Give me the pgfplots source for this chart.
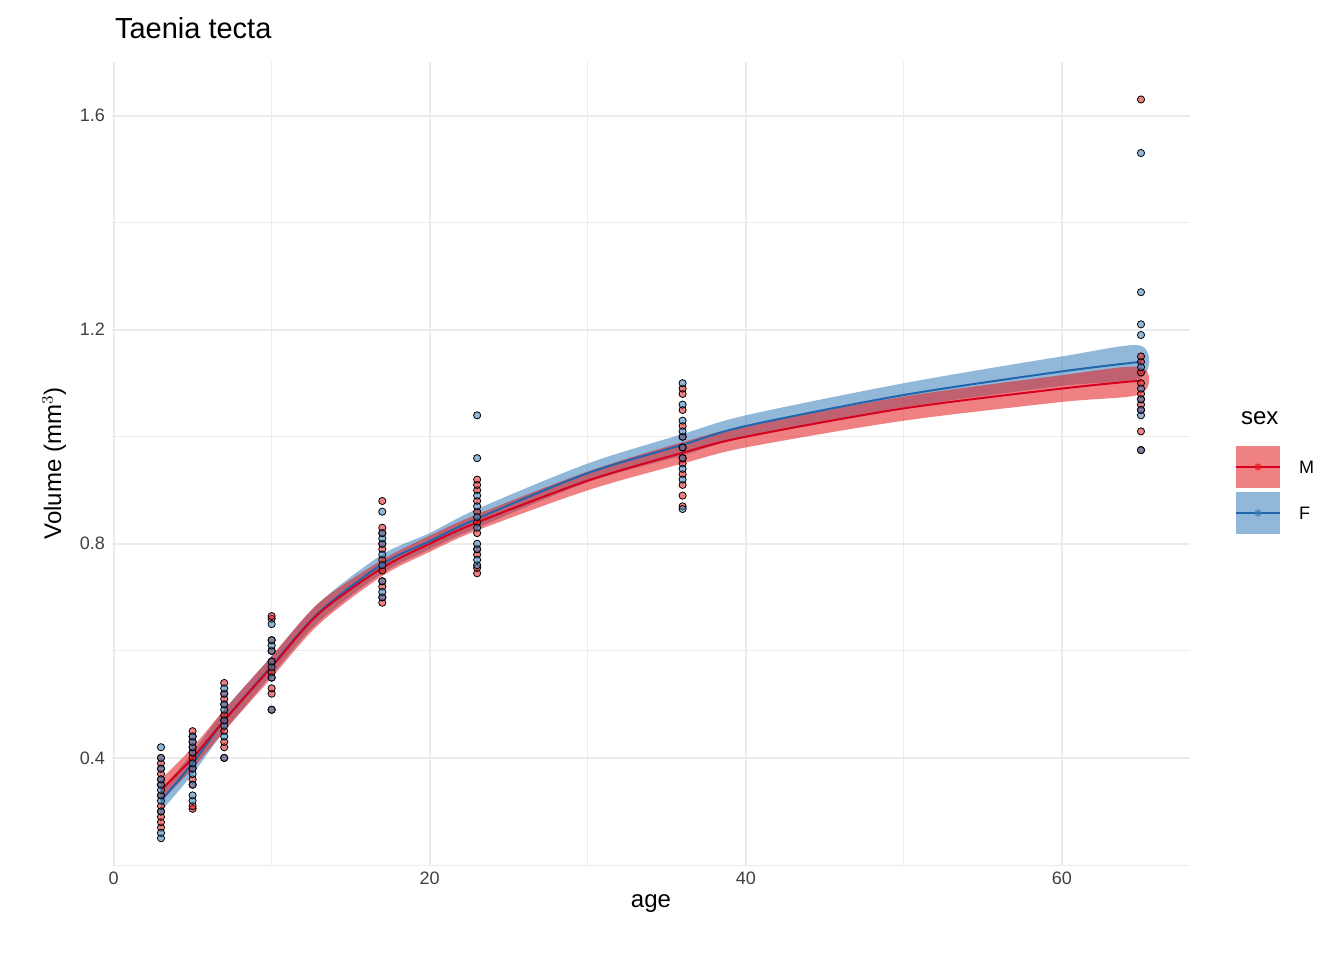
\documentclass[border=0pt]{standalone}
\usepackage{pgfplots}
\pgfplotsset{compat=1.18}
\usepackage{fontspec}
\setmainfont{Liberation Sans}
\definecolor{cM}{HTML}{E41A1C}
\definecolor{cF}{HTML}{377EB8}
\definecolor{lM}{HTML}{D7001F}
\definecolor{lF}{HTML}{2166AC}
\definecolor{gridc}{HTML}{EBEBEB}
\begin{document}
\begin{tikzpicture}
\useasboundingbox (-56pt,-47.5pt) rectangle (616pt,432.5pt);
\begin{axis}[at={(0,0)},anchor=south west,scale only axis,width=539pt,height=401.5pt,
 xmin=-0.1,xmax=68.1,ymin=0.2,ymax=1.7,
 axis line style={draw=none},tick style={draw=none},
 xtick={0,20,40,60},ytick={0.4,0.8,1.2,1.6},
 minor xtick={10,30,50},minor ytick={0.2,0.6,1.0,1.4},
 yticklabels={0.4,0.8,1.2,1.6},
 grid=both,major grid style={gridc,line width=1pt},minor grid style={gridc,line width=0.5pt},
 tick label style={font=\fontsize{9}{10}\selectfont,text=black!75},
 /pgf/number format/assume math mode=true,
 xlabel={age},ylabel={Volume (mm$^3$)},
 label style={font=\fontsize{12}{14}\selectfont},
 xlabel style={yshift=2pt},
 title={Taenia tecta},title style={font=\fontsize{14.5}{16}\selectfont,anchor=south west,at={(rel axis cs:0,1)},xshift=-2pt,yshift=2pt},
]
\addplot[only marks,mark=*,mark size=1.8pt,draw=none,fill=cM,fill opacity=0.55] coordinates {
(3,0.27)(3,0.28)(3,0.29)(3,0.30)(3,0.31)(3,0.33)(3,0.35)(3,0.36)(3,0.37)(3,0.38)(3,0.39)(3,0.40)
(5,0.305)(5,0.31)(5,0.35)(5,0.36)(5,0.38)(5,0.40)(5,0.41)(5,0.42)(5,0.43)(5,0.44)(5,0.45)
(7,0.40)(7,0.42)(7,0.43)(7,0.45)(7,0.47)(7,0.48)(7,0.50)(7,0.51)(7,0.52)(7,0.54)
(10,0.49)(10,0.52)(10,0.53)(10,0.55)(10,0.56)(10,0.58)(10,0.60)(10,0.62)(10,0.66)(10,0.665)
(17,0.69)(17,0.70)(17,0.72)(17,0.73)(17,0.75)(17,0.77)(17,0.79)(17,0.80)(17,0.82)(17,0.83)(17,0.88)
(23,0.745)(23,0.755)(23,0.78)(23,0.79)(23,0.82)(23,0.84)(23,0.86)(23,0.88)(23,0.90)(23,0.91)(23,0.92)
(36,0.87)(36,0.89)(36,0.91)(36,0.93)(36,0.95)(36,0.96)(36,0.98)(36,1.0)(36,1.02)(36,1.05)(36,1.08)(36,1.09)
(65,0.975)(65,1.01)(65,1.05)(65,1.06)(65,1.07)(65,1.08)(65,1.1)(65,1.12)(65,1.14)(65,1.15)(65,1.63)};
\addplot[only marks,mark=*,mark size=1.8pt,draw=none,fill=cF,fill opacity=0.55] coordinates {
(3,0.25)(3,0.26)(3,0.30)(3,0.32)(3,0.33)(3,0.34)(3,0.35)(3,0.36)(3,0.38)(3,0.40)(3,0.42)
(5,0.32)(5,0.33)(5,0.35)(5,0.37)(5,0.38)(5,0.39)(5,0.41)(5,0.42)(5,0.43)(5,0.44)
(7,0.40)(7,0.44)(7,0.46)(7,0.47)(7,0.49)(7,0.50)(7,0.52)(7,0.53)
(10,0.49)(10,0.55)(10,0.57)(10,0.58)(10,0.60)(10,0.61)(10,0.62)(10,0.65)
(17,0.70)(17,0.71)(17,0.73)(17,0.76)(17,0.78)(17,0.80)(17,0.81)(17,0.82)(17,0.86)
(23,0.76)(23,0.77)(23,0.79)(23,0.80)(23,0.83)(23,0.85)(23,0.87)(23,0.89)(23,0.96)(23,1.04)
(36,0.865)(36,0.92)(36,0.94)(36,0.96)(36,0.98)(36,1.0)(36,1.01)(36,1.03)(36,1.06)(36,1.10)
(65,0.975)(65,1.04)(65,1.05)(65,1.07)(65,1.09)(65,1.13)(65,1.19)(65,1.21)(65,1.27)(65,1.53)};
\addplot[draw=none,fill=cF,fill opacity=0.55,smooth] coordinates {
(3,0.30)(5,0.37)(7,0.45)(10,0.555)(13,0.655)(17,0.745)(20,0.79)(23,0.83)(30,0.915)(36,0.965)(40,1.0)(50,1.055)(60,1.095)(65,1.11)
(65,1.17)(60,1.15)(50,1.10)(40,1.04)(36,1.005)(30,0.95)(23,0.865)(20,0.82)(17,0.78)(13,0.69)(10,0.59)(7,0.49)(5,0.41)(3,0.34)} -- cycle;
\addplot[draw=none,fill=cM,fill opacity=0.55,smooth] coordinates {
(3,0.32)(5,0.38)(7,0.45)(10,0.55)(13,0.65)(17,0.74)(20,0.785)(23,0.825)(30,0.90)(36,0.95)(40,0.98)(50,1.03)(60,1.065)(65,1.08)
(65,1.13)(60,1.115)(50,1.075)(40,1.02)(36,0.99)(30,0.935)(23,0.855)(20,0.815)(17,0.77)(13,0.69)(10,0.59)(7,0.49)(5,0.42)(3,0.36)} -- cycle;
\addplot[lF,line width=1pt,smooth] coordinates {(3,0.32)(5,0.39)(7,0.47)(10,0.572)(13,0.672)(17,0.762)(20,0.805)(23,0.847)(30,0.932)(36,0.985)(40,1.02)(50,1.078)(60,1.122)(65,1.14)};
\addplot[lM,line width=1pt,smooth] coordinates {(3,0.34)(5,0.40)(7,0.47)(10,0.57)(13,0.67)(17,0.755)(20,0.80)(23,0.84)(30,0.918)(36,0.97)(40,1.0)(50,1.053)(60,1.09)(65,1.105)};
\end{axis}
\node[anchor=west,font=\fontsize{12}{14}\selectfont] at (561pt,223.5pt) {sex};
\fill[cM,opacity=0.55] (562pt,188.5pt) rectangle (584pt,209.5pt);
\draw[lM,line width=1pt] (562pt,199pt) -- (584pt,199pt);
\fill[cM,opacity=0.7] (573pt,199pt) circle (1.8pt);
\fill[cF,opacity=0.55] (562pt,165.5pt) rectangle (584pt,186.5pt);
\draw[lF,line width=1pt] (562pt,176pt) -- (584pt,176pt);
\fill[cF,opacity=0.7] (573pt,176pt) circle (1.8pt);
\node[anchor=west,font=\fontsize{9}{10}\selectfont] at (590pt,199pt) {M};
\node[anchor=west,font=\fontsize{9}{10}\selectfont] at (590pt,176pt) {F};
\end{tikzpicture}
\end{document}
